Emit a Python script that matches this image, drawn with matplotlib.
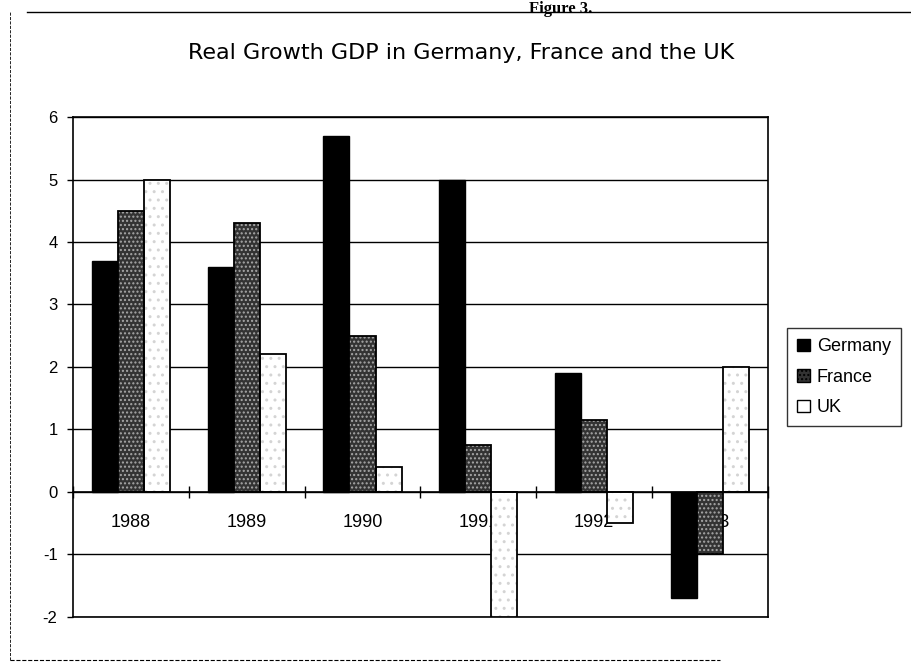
import numpy as np
import matplotlib
matplotlib.use("Agg")
import matplotlib.pyplot as plt
from matplotlib.patches import Patch
from matplotlib.lines import Line2D

plt.rcParams['font.family'] = ['Liberation Sans', 'DejaVu Sans']

years = ['1988', '1989', '1990', '1991', '1992', '1993']
germany = [3.7, 3.6, 5.7, 5.0, 1.9, -1.7]
france = [4.5, 4.3, 2.5, 0.75, 1.15, -1.0]
uk = [5.0, 2.2, 0.4, -2.0, -0.5, 2.0]
yticks = [-2, -1, 0, 1, 2, 3, 4, 5, 6]

fig = plt.figure(figsize=(9.11, 6.69), dpi=100)
ax = fig.add_axes([0.08, 0.078, 0.763, 0.747])

x = np.arange(len(years))
w = 0.225

# Germany: solid black
ax.bar(x - w, germany, w, color='black', edgecolor='black', linewidth=1, zorder=3)
# France: dark stipple
ax.bar(x, france, w, color='#333333', edgecolor='#a8a8a8', hatch='....', linewidth=0, zorder=3)
ax.bar(x, france, w, color='none', edgecolor='black', linewidth=1.3, zorder=4)
# UK: white with faint stipple
ax.bar(x + w, uk, w, color='white', edgecolor='#d4d4d4', hatch='..', linewidth=0, zorder=3)
ax.bar(x + w, uk, w, color='none', edgecolor='black', linewidth=1.3, zorder=4)

ax.set_xlim(-0.5, len(years) - 0.5)
ax.set_ylim(-2, 6)
ax.set_yticks(yticks)
ax.set_yticklabels([str(v) for v in yticks], fontsize=12)
ax.yaxis.grid(True, color='black', linewidth=1)
ax.set_axisbelow(True)

# category axis crossing at zero
ax.spines['bottom'].set_position(('data', 0))
ax.spines['bottom'].set_zorder(5)
for s in ['left', 'right', 'top', 'bottom']:
    ax.spines[s].set_linewidth(1.2)
ax.set_xticks(np.arange(len(years) + 1) - 0.5)
ax.set_xticklabels([])
ax.tick_params(axis='x', which='major', direction='inout', length=8, width=1)
ax.set_xticks(x, minor=True)
ax.set_xticklabels(years, minor=True, fontsize=13)
ax.tick_params(axis='x', which='minor', length=0, pad=16)
ax.tick_params(axis='y', direction='out', length=4, width=1, pad=7)
ax.axhline(-2, color='black', linewidth=1.2, clip_on=False)

handles = [
    Patch(facecolor='black', edgecolor='black', label='Germany'),
    Patch(facecolor='#333333', edgecolor='black', hatch='....', label='France'),
    Patch(facecolor='white', edgecolor='black', label='UK'),
]
leg = fig.legend(handles=handles, loc='center left', bbox_to_anchor=(0.864, 0.436),
                 fontsize=13, frameon=True, fancybox=False, edgecolor='black',
                 handlelength=0.7, handleheight=0.7, handletextpad=0.4,
                 labelspacing=0.75, borderpad=0.55, borderaxespad=0)
leg.get_frame().set_linewidth(1)

fig.text(0.506, 0.921, 'Real Growth GDP in Germany, France and the UK',
         ha='center', va='center', fontsize=16, family='DejaVu Sans')
fig.text(0.615, 0.999, 'Figure 3.', ha='center', va='top', fontsize=12,
         family='Liberation Serif', fontweight='bold')

# scanned page frame
fig.add_artist(Line2D([0.03, 1.0], [0.982, 0.982], color='black', linewidth=1))
fig.add_artist(Line2D([0.011, 0.79], [0.013, 0.013], color='black', linewidth=0.8, linestyle='--'))
fig.add_artist(Line2D([0.011, 0.011], [0.013, 0.982], color='black', linewidth=0.6, linestyle='--'))

plt.savefig('out.png', dpi=100)
